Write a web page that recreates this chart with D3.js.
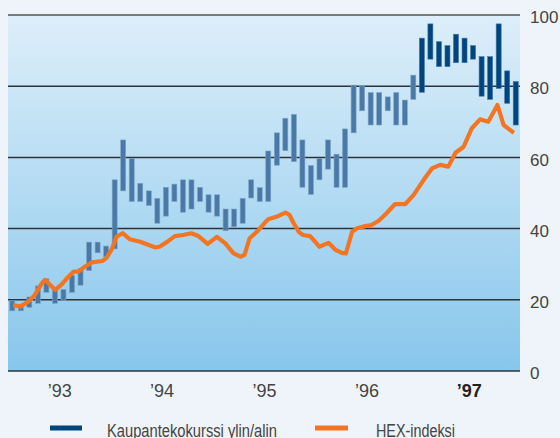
<!DOCTYPE html>
<html>
<head>
<meta charset="utf-8">
<script src="https://cdn.jsdelivr.net/npm/d3@7"></script>
<style>
  body { margin: 0; background: #eef4f9; }
  svg { display: block; font-family: "Liberation Sans", Arial, sans-serif; }
</style>
</head>
<body>
<script>
// Monthly high / low of the share price, Jan 1993 .. Dec 1997
const priceHigh = [19.7, 18.7, 20.8, 23.9, 25.9, 22.9, 22.9, 26.9, 28.8, 36.2, 36.2, 35.1,
                   53.7, 64.9, 59.7, 52.7, 50.6, 48.5, 51.6, 52.5, 53.7, 53.7, 51.6, 49.5,
                   49.5, 45.5, 45.5, 48.5, 53.7, 51.5, 61.8, 66.9, 71.0, 72.1, 64.9, 57.7,
                   59.7, 64.9, 60.9, 68.0, 80.3, 80.1, 78.2, 78.2, 77.0, 78.2, 76.1, 83.1,
                   93.5, 97.5, 92.5, 91.4, 94.6, 93.5, 91.4, 88.3, 88.3, 97.5, 84.3, 81.3];
const priceLow  = [16.9, 16.9, 17.9, 19.0, 22.1, 19.0, 19.9, 22.1, 24.1, 28.2, 33.2, 32.1,
                   34.3, 50.6, 47.6, 47.6, 46.5, 41.5, 43.5, 47.6, 44.6, 45.5, 47.6, 44.6,
                   43.5, 39.4, 40.5, 41.5, 48.6, 47.6, 47.6, 57.8, 61.9, 58.8, 51.6, 49.6,
                   53.7, 56.7, 51.6, 51.6, 66.9, 73.1, 69.1, 69.1, 73.1, 69.1, 69.1, 76.3,
                   78.3, 87.6, 85.5, 85.5, 86.6, 86.6, 87.6, 77.2, 76.3, 79.4, 75.2, 69.1];

// HEX index (scaled)
const hexTime = [1993.05, 1993.12, 1993.20, 1993.26, 1993.33, 1993.36, 1993.41, 1993.46, 1993.52,
                 1993.59, 1993.64, 1993.69, 1993.75, 1993.82, 1993.92, 1993.96, 1994.01, 1994.06,
                 1994.12, 1994.19, 1994.29, 1994.44, 1994.48, 1994.55, 1994.63, 1994.71, 1994.79,
                 1994.86, 1994.95, 1995.04, 1995.12, 1995.20, 1995.27, 1995.31, 1995.36, 1995.43,
                 1995.51, 1995.54, 1995.62, 1995.71, 1995.75, 1995.79, 1995.84, 1995.88, 1995.95,
                 1996.00, 1996.04, 1996.13, 1996.20, 1996.26, 1996.30, 1996.36, 1996.41, 1996.49,
                 1996.55, 1996.62, 1996.69, 1996.78, 1996.88, 1996.96, 1997.06, 1997.14, 1997.22,
                 1997.30, 1997.37, 1997.45, 1997.53, 1997.61, 1997.69, 1997.78, 1997.84, 1997.94];
const hexValue = [18.5, 18.1, 19.5, 21.3, 24.6, 25.6, 24.2, 22.8, 24.2,
                  26.5, 27.9, 27.9, 29.3, 30.5, 30.9, 31.7, 34.0, 37.7,
                  38.7, 37.0, 36.3, 34.7, 34.9, 36.2, 37.9, 38.2, 38.7,
                  37.9, 35.7, 37.7, 35.9, 33.1, 32.1, 32.6, 37.3, 39.1,
                  41.7, 42.6, 43.3, 44.5, 43.8, 41.5, 39.1, 38.2, 37.9,
                  36.3, 34.9, 36.0, 34.0, 33.2, 33.0, 39.1, 40.1, 40.7,
                  41.0, 42.2, 44.1, 46.9, 46.9, 49.4, 53.7, 56.9, 57.9,
                  57.4, 61.3, 63.0, 68.2, 70.7, 70.0, 74.7, 69.1, 66.9];

const years = [1993, 1994, 1995, 1996, 1997];
const yTicks = [0, 20, 40, 60, 80, 100];
const legendItems = ["Kaupantekokurssi ylin/alin", "HEX-indeksi"];

const W = 560, H = 438;
const plotL = 8, plotR = 520, plotT = 15, plotB = 371;

const svg = d3.select("body").append("svg")
    .attr("width", W)
    .attr("height", H);

// plot background gradient
const grad = svg.append("defs").append("linearGradient")
    .attr("id", "bg")
    .attr("x1", 0).attr("y1", 0).attr("x2", 0).attr("y2", 1);
grad.append("stop").attr("offset", "0%").attr("stop-color", "#ddeef9");
grad.append("stop").attr("offset", "50%").attr("stop-color", "#b3dbf3");
grad.append("stop").attr("offset", "100%").attr("stop-color", "#88c6ec");

svg.append("rect")
    .attr("x", plotL).attr("y", plotT)
    .attr("width", plotR - plotL).attr("height", plotB - plotT)
    .attr("fill", "url(#bg)");

const x = d3.scaleLinear().domain([1993, 1998]).range([plotL, plotR]);
const y = d3.scaleLinear().domain([0, 100]).range([plotB, plotT]);

// gridlines
svg.append("g")
    .selectAll("line")
    .data(yTicks)
    .enter().append("line")
    .attr("x1", plotL).attr("x2", plotR)
    .attr("y1", d => y(d)).attr("y2", d => y(d))
    .attr("stroke", d => d === 100 ? "#555" : "#2d3338")
    .attr("stroke-width", 1.5);

// right axis labels
const yAxis = d3.axisRight(y).tickValues(yTicks).tickSize(0).tickPadding(10);
svg.append("g")
    .attr("transform", "translate(" + plotR + ",0)")
    .call(yAxis)
    .call(g => g.select(".domain").remove())
    .selectAll("text")
    .attr("dy", "0.45em")
    .attr("font-size", 17)
    .attr("font-family", "Liberation Sans, Arial, sans-serif")
    .attr("fill", "#444");

// year labels
const xAxis = d3.axisBottom(x)
    .tickValues(years.map(d => d + 0.5))
    .tickSize(0).tickPadding(13)
    .tickFormat(d => "\u2019" + String(Math.floor(d)).slice(2));
svg.append("g")
    .attr("transform", "translate(0," + plotB + ")")
    .call(xAxis)
    .call(g => g.select(".domain").remove())
    .selectAll("text")
    .attr("font-size", 18)
    .attr("font-family", "Liberation Sans, Arial, sans-serif")
    .attr("fill", d => Math.floor(d) === 1997 ? "#222" : "#444")
    .attr("font-weight", d => Math.floor(d) === 1997 ? "bold" : "normal");

// high/low bars
const barW = 5;
svg.append("g")
    .selectAll("rect")
    .data(priceHigh)
    .enter().append("rect")
    .attr("x", (d, i) => x(1993 + (i + 0.5) / 12) - barW / 2)
    .attr("y", d => y(d))
    .attr("width", barW)
    .attr("height", (d, i) => y(priceLow[i]) - y(d))
    .attr("fill", (d, i) => i >= 48 ? "#00457c" : "#4a79a7")
    .attr("stroke", (d, i) => i >= 48 ? "#3f78a8" : "#7ea3c6")
    .attr("stroke-width", 0.6);

// HEX line
const line = d3.line()
    .x(d => x(d[0]))
    .y(d => y(d[1]));
svg.append("path")
    .datum(hexTime.map((t, i) => [t, hexValue[i]]))
    .attr("d", line)
    .attr("fill", "none")
    .attr("stroke", "#f47521")
    .attr("stroke-width", 4.2)
    .attr("stroke-linejoin", "round");

// legend
const legend = svg.append("g")
    .selectAll("g")
    .data(legendItems)
    .enter().append("g")
    .attr("transform", (d, i) => "translate(" + (i === 0 ? 50 : 315) + ",428)");

legend.append("line")
    .attr("x1", 0).attr("x2", (d, i) => i === 0 ? 32 : 33)
    .attr("y1", 0).attr("y2", 0)
    .attr("stroke", (d, i) => i === 0 ? "#00457c" : "#f47521")
    .attr("stroke-width", 5);

legend.append("text")
    .attr("x", (d, i) => i === 0 ? 57 : 61)
    .attr("y", 8.7)
    .attr("font-size", 17.5)
    .attr("textLength", (d, i) => i === 0 ? 170 : 79)
    .attr("lengthAdjust", "spacingAndGlyphs")
    .attr("fill", "#444")
    .text(d => d);
</script>
</body>
</html>
